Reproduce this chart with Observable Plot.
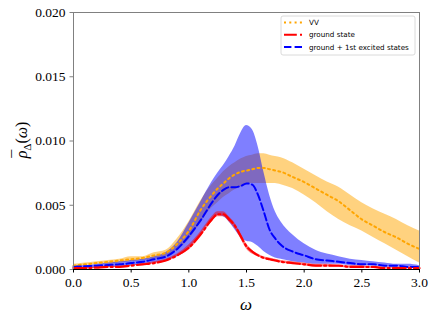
<!DOCTYPE html>
<html><head><meta charset="utf-8">
<script src="https://cdn.jsdelivr.net/npm/d3@7"></script>
<script src="https://cdn.jsdelivr.net/npm/@observablehq/plot@0.6"></script>
<style>
body{margin:0;background:#fff}
#chart svg text{font-family:"Liberation Serif", serif !important;}
#chart svg text.leg{font-family:"DejaVu Sans", sans-serif !important;}
</style>
</head><body><div id="chart"></div>
<script>
const omega = [0,0.1,0.2,0.3,0.4,0.5,0.6,0.7,0.8,0.9,1.0,1.1,1.2, 1.25,1.3,1.35,1.4,1.45,1.5,1.55,1.6,1.65,1.7,1.75,1.8, 1.9,2.0,2.1,2.2,2.3,2.4,2.5,2.6,2.7,2.8,2.9,3.0];
const vvMid = [0.0003,0.0004,0.0005,0.0006,0.0007,0.0008,0.0009,0.0011,0.0013,0.0020,0.0030,0.0046,0.0058, 0.0063,0.0067,0.0071,0.0074,0.0076,0.0077,0.0078,0.0079,0.0079,0.0078,0.0077,0.0076, 0.0072,0.0068,0.0063,0.0058,0.0053,0.0046,0.0039,0.0034,0.0029,0.0025,0.0020,0.0016];
const vvHi = [0.0004,0.0005,0.0006,0.0007,0.0008,0.0010,0.0010,0.0013,0.0015,0.0024,0.0037,0.0053,0.0066, 0.0071,0.0076,0.0080,0.0083,0.0086,0.0088,0.0089,0.0090,0.0090,0.0089,0.0088,0.0087, 0.0083,0.0078,0.0073,0.0068,0.0064,0.0058,0.0052,0.0047,0.0043,0.0039,0.0034,0.0030];
const vvLo = [0.0002,0.0003,0.0004,0.0004,0.0005,0.0006,0.0007,0.0008,0.0010,0.0015,0.0023,0.0036,0.0048, 0.0052,0.0056,0.0059,0.0062,0.0064,0.0066,0.0067,0.0067,0.0067,0.0067,0.0067,0.0066, 0.0063,0.0058,0.0052,0.0045,0.0039,0.0034,0.0030,0.0025,0.0020,0.0015,0.0010,0.0005];
const exMid = [0.0002,0.00025,0.0003,0.00035,0.0004,0.0005,0.0006,0.0008,0.0010,0.0016,0.0026,0.0038,0.0052, 0.0058,0.0062,0.0064,0.0064,0.0065,0.0067,0.0066,0.0058,0.0045,0.0031,0.0024,0.0019, 0.0014,0.0011,0.0008,0.0007,0.0006,0.0005,0.0004,0.0004,0.0003,0.0003,0.0002,0.0002];
const exHi = [0.0003,0.0003,0.0004,0.0005,0.0006,0.0007,0.0008,0.0010,0.0013,0.0021,0.0036,0.0052,0.0068, 0.0075,0.0081,0.0088,0.0096,0.0106,0.0112,0.0109,0.0096,0.0076,0.0058,0.0045,0.0037, 0.0027,0.0020,0.0015,0.0012,0.0010,0.0008,0.0007,0.0006,0.0005,0.0004,0.0004,0.0003];
const exLo = [0.0001,0.0001,0.00015,0.0002,0.0002,0.0003,0.0004,0.0005,0.0007,0.0010,0.0016,0.0027,0.0039, 0.0042,0.0041,0.0037,0.0031,0.0025,0.0022,0.0021,0.0018,0.0014,0.0011,0.0009,0.0008, 0.0006,0.0005,0.0004,0.0004,0.0004,0.0003,0.0003,0.0003,0.0002,0.0002,0.0002,0.0002];
const gsMid = [0.0001,0.0001,0.00015,0.0002,0.0002,0.0003,0.0004,0.0005,0.0007,0.0011,0.0017,0.0027,0.0039, 0.0043,0.0043,0.0039,0.0034,0.0026,0.0018,0.0014,0.0011,0.0009,0.0008,0.0007,0.0006, 0.0005,0.0004,0.0003,0.0003,0.0003,0.0002,0.0002,0.0002,0.0001,0.0001,0.0001,0.0001];
const gsHi = [0.00015,0.00015,0.0002,0.00025,0.00025,0.00035,0.00045,0.0006,0.0008,0.0012,0.0019,0.0029,0.0041, 0.0045,0.0045,0.0041,0.0036,0.0028,0.0020,0.0015,0.0012,0.0010,0.0009,0.0008,0.0007, 0.0006,0.0005,0.0004,0.0004,0.0003,0.0003,0.0003,0.0002,0.0002,0.0002,0.0002,0.0002];
const gsLo = [0.00005,0.00005,0.0001,0.00015,0.00015,0.00025,0.00035,0.0004,0.0006,0.0010,0.0015,0.0025,0.0037, 0.0041,0.0041,0.0037,0.0032,0.0024,0.0016,0.0012,0.0010,0.0008,0.0007,0.0006,0.0005, 0.0004,0.0003,0.0002,0.0002,0.0002,0.0001,0.0001,0.0001,0.0001,0.0001,0.0001,0.0001];
const xTicks = [0,0.5,1.0,1.5,2.0,2.5,3.0];
const yTicks = [0,0.005,0.010,0.015,0.020];
const legendLabels = ["VV","ground state","ground + 1st excited states"];

const rows = omega.map((w,i)=>({w, vvMid:vvMid[i], vvHi:vvHi[i], vvLo:vvLo[i], exMid:exMid[i], exHi:exHi[i], exLo:exLo[i], gsMid:gsMid[i], gsHi:gsHi[i], gsLo:gsLo[i]}));
const curve = "monotone-x";
const grey = "#808080";

const chart = Plot.plot({
  width: 436, height: 322,
  marginLeft: 73, marginRight: 17, marginTop: 12, marginBottom: 53,
  style: {fontSize: "13.5px", background: "white", color: "black"},
  x: {domain: [0,3]},
  y: {domain: [0,0.02]},
  marks: [
    Plot.areaY(rows, {x:"w", y1:"vvLo", y2:"vvHi", fill:"orange", fillOpacity:0.5, curve}),
    Plot.areaY(rows, {x:"w", y1:"exLo", y2:"exHi", fill:"blue", fillOpacity:0.5, curve}),
    Plot.areaY(rows, {x:"w", y1:"gsLo", y2:"gsHi", fill:"red", fillOpacity:0.5, curve}),
    Plot.lineY(rows, {x:"w", y:"vvMid", stroke:"orange", strokeWidth:2, strokeDasharray:"2,3.3", curve}),
    Plot.lineY(rows, {x:"w", y:"exMid", stroke:"blue", strokeWidth:2, strokeDasharray:"7.4,3.2", curve}),
    Plot.lineY(rows, {x:"w", y:"gsMid", stroke:"red", strokeWidth:2.2, strokeDasharray:"12.8,3.2,2,3.2", curve}),
    Plot.frame({anchor:"top", stroke:grey}),
    Plot.frame({anchor:"right", stroke:grey}),
    Plot.frame({anchor:"left", stroke:grey}),
    Plot.frame({anchor:"bottom", stroke:"black"}),
    Plot.axisX({ticks: xTicks, tickFormat: d=>d.toFixed(1), tickSize: 3.5, tickPadding: 4, label: null, stroke:"black"}),
    Plot.axisY({ticks: yTicks, tickFormat: d=>d.toFixed(3), tickSize: 3.5, tickPadding: 4.5, label: null, stroke: grey})
  ]
});
document.getElementById("chart").appendChild(chart);

const svg = d3.select(chart);
// axis labels
svg.append("text").attr("x", 246).attr("y", 310).attr("text-anchor","middle")
  .style("font-size","17px").style("font-style","italic").text("ω");
const yl = svg.append("text").attr("transform","translate(27,140) rotate(-90)").attr("text-anchor","middle")
  .style("font-size","16px");
yl.append("tspan").style("font-style","italic").text("ρ");
yl.append("tspan").attr("dx","-7").attr("dy","-3").text("\u00AF");
yl.append("tspan").attr("dx","-1").attr("dy","7").style("font-size","11px").text("Δ");
yl.append("tspan").attr("dy","-4").text("(");
yl.append("tspan").style("font-style","italic").text("ω");
yl.append("tspan").text(")");

// legend
const lg = svg.append("g");
lg.append("rect").attr("x",281).attr("y",16).attr("width",134).attr("height",39).attr("rx",2)
  .attr("fill","white").attr("fill-opacity",0.8).attr("stroke","#d0d0d0").attr("stroke-width",0.8);
const styles = [
  {stroke:"orange", dash:"2,3.3"},
  {stroke:"red", dash:"12.8,3.2,2,3.2"},
  {stroke:"blue", dash:"7.4,3.2"}
];
legendLabels.forEach((lab,i)=>{
  const y = 22.5 + i*12.3;
  lg.append("line").attr("x1",284).attr("x2",302).attr("y1",y).attr("y2",y)
    .attr("stroke",styles[i].stroke).attr("stroke-width",2).attr("stroke-dasharray",styles[i].dash);
  lg.append("text").attr("class","leg").attr("x",309).attr("y",y+2.6).attr("text-anchor","start")
    .style("font-size","7.2px").text(lab);
});
</script></body></html>
